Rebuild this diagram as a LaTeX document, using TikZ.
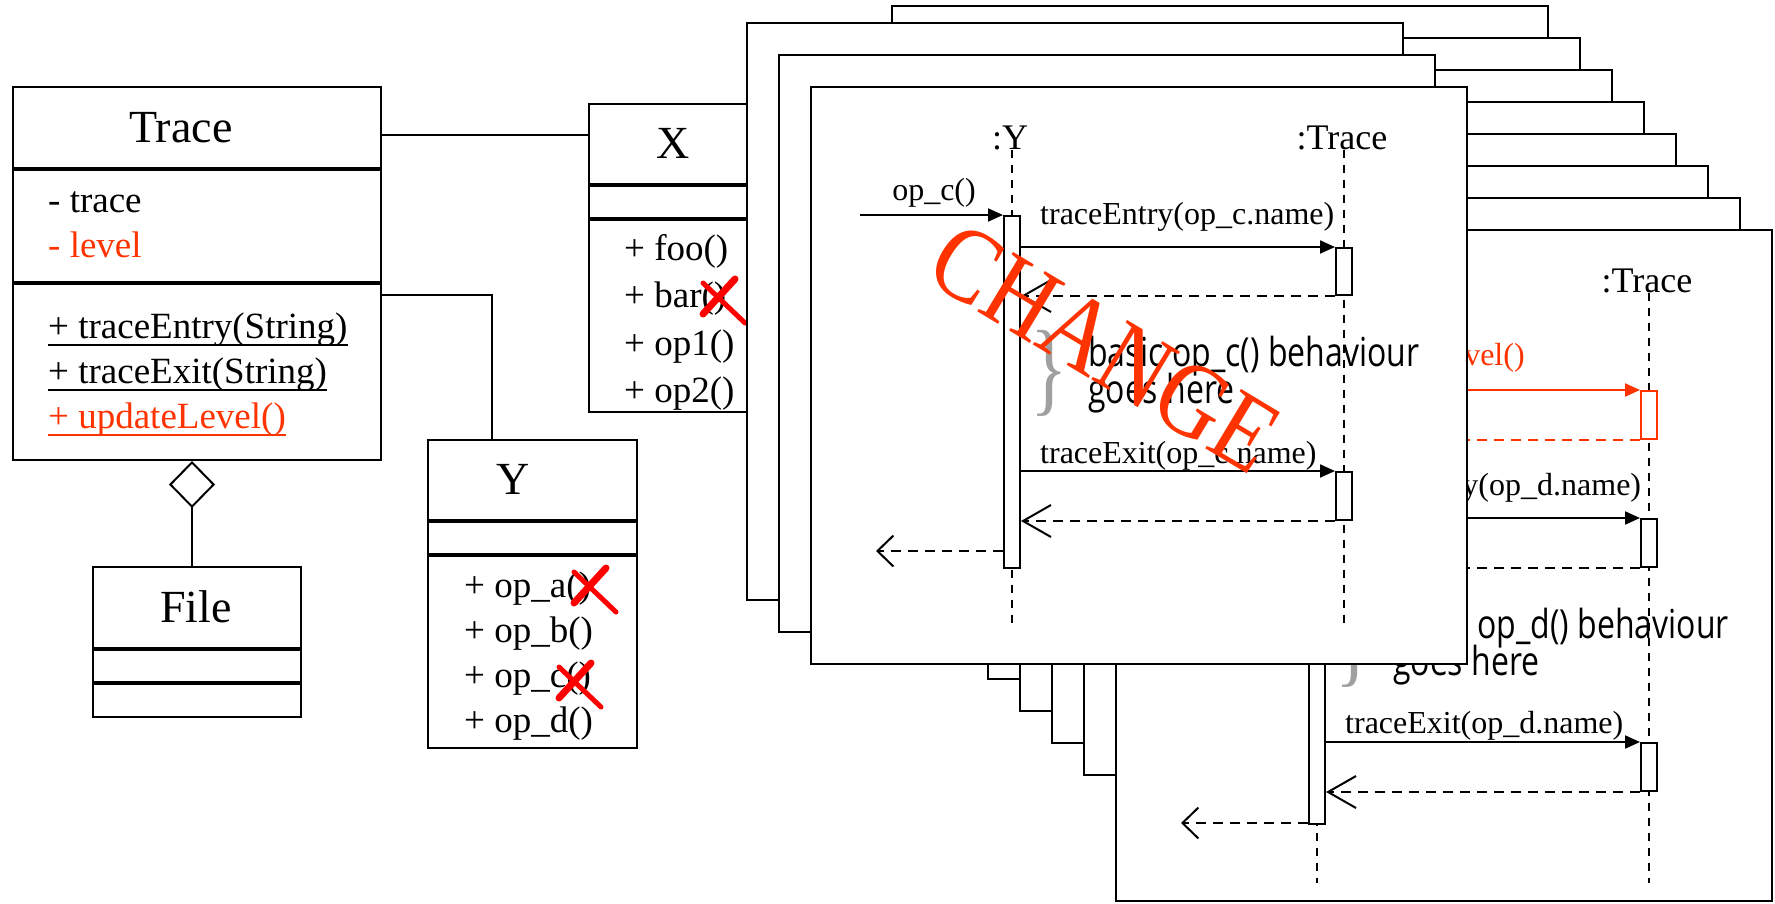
\documentclass[tikz,border=0pt]{standalone}
\usepackage{fontspec}
\setmainfont{Liberation Serif}
\newfontfamily\notefont{Open Sans}
\usepackage{tikz}
\usetikzlibrary{arrows.meta, calc, positioning}
\usepackage{xcolor}
\definecolor{chg}{HTML}{FF3300}
\definecolor{bracegray}{HTML}{A0A0A0}

\tikzset{
  classbox/.style={draw, line width=2pt, fill=white, inner sep=0pt, anchor=north west},
  cname/.style={font=\fontsize{46}{50}\selectfont, inner sep=0pt, anchor=base},
  member/.style={font=\fontsize{37}{45}\selectfont, inner sep=0pt, anchor=base west},
  seqframe/.style={draw, line width=2pt, fill=white},
  obj/.style={font=\fontsize{36}{40}\selectfont, inner sep=0pt, anchor=base},
  msg/.style={font=\fontsize{32}{36}\selectfont, inner sep=0pt, anchor=base west},
  note/.style={font=\notefont\fontsize{40}{44}\selectfont, inner sep=0pt, anchor=base west, xscale=0.8},
  bracket/.style={font=\fontsize{104}{104}\selectfont, text=bracegray, inner sep=0pt, xscale=0.75},
  act/.style={draw, line width=2pt, fill=white, inner sep=0pt, minimum width=16pt, anchor=north},
  lifeline/.style={line width=2pt, dash pattern=on 8pt off 7pt},
  call/.style={line width=2pt, -{Triangle[length=15pt, width=13pt]}},
  retmsg/.style={line width=2pt, dash pattern=on 10pt off 7pt, -{Straight Barb[length=28pt, width=32pt]}},
  outmsg/.style={line width=2pt, dash pattern=on 10pt off 7pt, -{Straight Barb[length=16pt, width=31pt]}},
  xmark/.pic={
    \draw[red, line width=7pt, line cap=round] (35,1) -- (3,36);
    \draw[red, line width=5pt, line cap=round] (3,5) -- (45,45);
  }
}

\begin{document}
\begin{tikzpicture}[x=1pt, y=-1pt]
  \useasboundingbox (0,0) rectangle (1775,903);

  % class Trace
  \node[classbox, minimum width=368pt, minimum height=81pt] (trace) at (12,86) {};
  \node[classbox, minimum width=368pt, minimum height=112pt] (trace-attr) at (trace.south west) {};
  \node[classbox, minimum width=368pt, minimum height=176pt] (trace-ops) at (trace-attr.south west) {};
  \node[cname] (trace-name) at (181,142) {Trace};
  \node[member] (tr-trace) at (48,212) {- trace};
  \node[member, text=chg] (tr-level) at (48,257) {- level};
  \node[member] (tr-entry) at (48,338) {+ traceEntry(String)};
  \node[member] (tr-exit) at (48,383) {+ traceExit(String)};
  \node[member, text=chg] (tr-upd) at (48,428) {+ updateLevel()};
  \foreach \n in {tr-entry, tr-exit}
    \draw[line width=2pt] ($(\n.base west)+(0,7)$) -- ($(\n.base east)+(0,7)$);
  \draw[line width=2pt, chg] ($(tr-upd.base west)+(0,7)$) -- ($(tr-upd.base east)+(0,7)$);

  % class File
  \node[classbox, minimum width=208pt, minimum height=81pt] (file) at (92,566) {};
  \node[classbox, minimum width=208pt, minimum height=32pt] (file-attr) at (file.south west) {};
  \node[classbox, minimum width=208pt, minimum height=33pt] (file-ops) at (file-attr.south west) {};
  \node[cname] (file-name) at (196,622) {File};

  % class X
  \node[classbox, minimum width=212pt, minimum height=80pt] (xcls) at (588,103) {};
  \node[classbox, minimum width=212pt, minimum height=32pt] (xcls-attr) at (xcls.south west) {};
  \node[classbox, minimum width=212pt, minimum height=192pt] (xcls-ops) at (xcls-attr.south west) {};
  \node[cname] (x-name) at (673,158) {X};
  \node[member] (x-foo) at (624,260) {+ foo()};
  \node[member] (x-bar) at (624,307) {+ bar()};
  \node[member] (x-op1) at (624,355) {+ op1()};
  \node[member] (x-op2) at (624,402) {+ op2()};

  % class Y
  \node[classbox, minimum width=209pt, minimum height=80pt] (ycls) at (427,439) {};
  \node[classbox, minimum width=209pt, minimum height=32pt] (ycls-attr) at (ycls.south west) {};
  \node[classbox, minimum width=209pt, minimum height=192pt] (ycls-ops) at (ycls-attr.south west) {};
  \node[cname] (y-name) at (513,494) {Y};
  \node[member] (y-opa) at (464,597) {+ op\_a()};
  \node[member] (y-opb) at (464,642) {+ op\_b()};
  \node[member] (y-opc) at (464,687) {+ op\_c()};
  \node[member] (y-opd) at (464,732) {+ op\_d()};

  % associations
  \draw[line width=2pt] (trace.east |- 0,135) -- (xcls.west |- 0,135);
  \draw[line width=2pt] (trace-ops.east |- 0,295) -| (492,0 |- ycls.north);
  \draw[line width=2pt, {Diamond[open, length=47pt, width=46pt]}-] (trace-ops.south -| 192,0) -- (file.north -| 192,0);

  % removed operations
  \pic at (700,278) {xmark};
  \pic at (571,567) {xmark};
  \pic at (556,662) {xmark};

  % stack of sequence diagrams
  \foreach \k in {0,...,6}
    \draw[seqframe] (892+32*\k, 6+32*\k) rectangle ++(656,577);
  \draw[seqframe] (1116,230) rectangle ++(656,671);

  % op_d diagram
  \begin{scope}[shift={(1116,230)}]
    \node[obj] (d-ylab) at (199,62) {:Y};
    \node[obj] (d-tlab) at (531,62) {:Trace};
    \coordinate (d-yend) at (201,653);
    \coordinate (d-tend) at (533,653);
    \draw[lifeline] (d-yend |- d-ylab.south) -- (d-yend);
    \draw[lifeline] (d-tend |- d-tlab.south) -- (d-tend);
    \node[act, minimum height=465pt] (d-yact) at (201,128) {};
    \node[act, draw=chg, minimum height=48pt] (d-tact0) at (533,160) {};
    \node[act, minimum height=48pt] (d-tact1) at (533,288) {};
    \node[act, minimum height=48pt] (d-tact2) at (533,512) {};
    \coordinate (d-in) at (49,128);
    \coordinate (d-out) at (65,593);
    \node[msg, anchor=base] (d-call) at (123,113) {op\_d()};
    \draw[call] (d-in) -- (d-yact.north west);
    \node[msg, text=chg] (d-upd) at (229,135) {updateLevel()};
    \draw[call, chg] (d-yact.east |- d-tact0.north) -- (d-tact0.north west);
    \draw[retmsg, chg] (d-tact0.south west) -- (d-yact.east |- d-tact0.south);
    \node[msg] (d-entry) at (229,265) {traceEntry(op\_d.name)};
    \draw[call] (d-yact.east |- d-tact1.north) -- (d-tact1.north west);
    \draw[retmsg] (d-tact1.south west) -- (d-yact.east |- d-tact1.south);
    \node[bracket] (d-brace) at (238,414) {\}};
    \node[note] (d-note1) at (277,408) {basic op\_d() behaviour};
    \node[note] (d-note2) at (277,445) {goes here};
    \node[msg] (d-exit) at (229,503) {traceExit(op\_d.name)};
    \draw[call] (d-yact.east |- d-tact2.north) -- (d-tact2.north west);
    \draw[retmsg] (d-tact2.south west) -- (d-yact.east |- d-tact2.south);
    \draw[outmsg] (d-yact.west |- d-out) -- (d-out);
  \end{scope}

  \foreach \k in {0,1}
    \draw[seqframe] (747+32*\k, 23+32*\k) rectangle ++(656,577);
  \draw[seqframe] (811,87) rectangle ++(656,577);

  % op_c diagram
  \begin{scope}[shift={(811,87)}]
    \node[obj] (c-ylab) at (199,62) {:Y};
    \node[obj] (c-tlab) at (531,62) {:Trace};
    \coordinate (c-yend) at (201,540);
    \coordinate (c-tend) at (533,540);
    \draw[lifeline] (c-yend |- c-ylab.south) -- (c-yend);
    \draw[lifeline] (c-tend |- c-tlab.south) -- (c-tend);
    \node[act, minimum height=352pt] (c-yact) at (201,128) {};
    \node[act, minimum height=47pt] (c-tact1) at (533,160) {};
    \node[act, minimum height=48pt] (c-tact2) at (533,384) {};
    \coordinate (c-in) at (49,128);
    \coordinate (c-out) at (65,464);
    \node[msg, anchor=base] (c-call) at (123,113) {op\_c()};
    \draw[call] (c-in) -- (c-yact.north west);
    \node[msg] (c-entry) at (229,137) {traceEntry(op\_c.name)};
    \draw[call] (c-yact.east |- c-tact1.north) -- (c-tact1.north west);
    \draw[retmsg] (c-tact1.south west) -- (c-yact.east |- c-tact1.south);
    \node[bracket] (c-brace) at (238,286) {\}};
    \node[note] (c-note1) at (277,279) {basic op\_c() behaviour};
    \node[note] (c-note2) at (277,316) {goes here};
    \node[msg] (c-exit) at (229,376) {traceExit(op\_c.name)};
    \draw[call] (c-yact.east |- c-tact2.north) -- (c-tact2.north west);
    \draw[retmsg] (c-tact2.south west) -- (c-yact.east |- c-tact2.south);
    \draw[outmsg] (c-yact.west |- c-out) -- (c-out);
  \end{scope}

  % stamp
  \node[font=\fontsize{106}{106}\selectfont, text=chg, rotate=-31, xscale=0.87, inner sep=0pt] (change) at (1105,348) {CHANGE};
\end{tikzpicture}
\end{document}
